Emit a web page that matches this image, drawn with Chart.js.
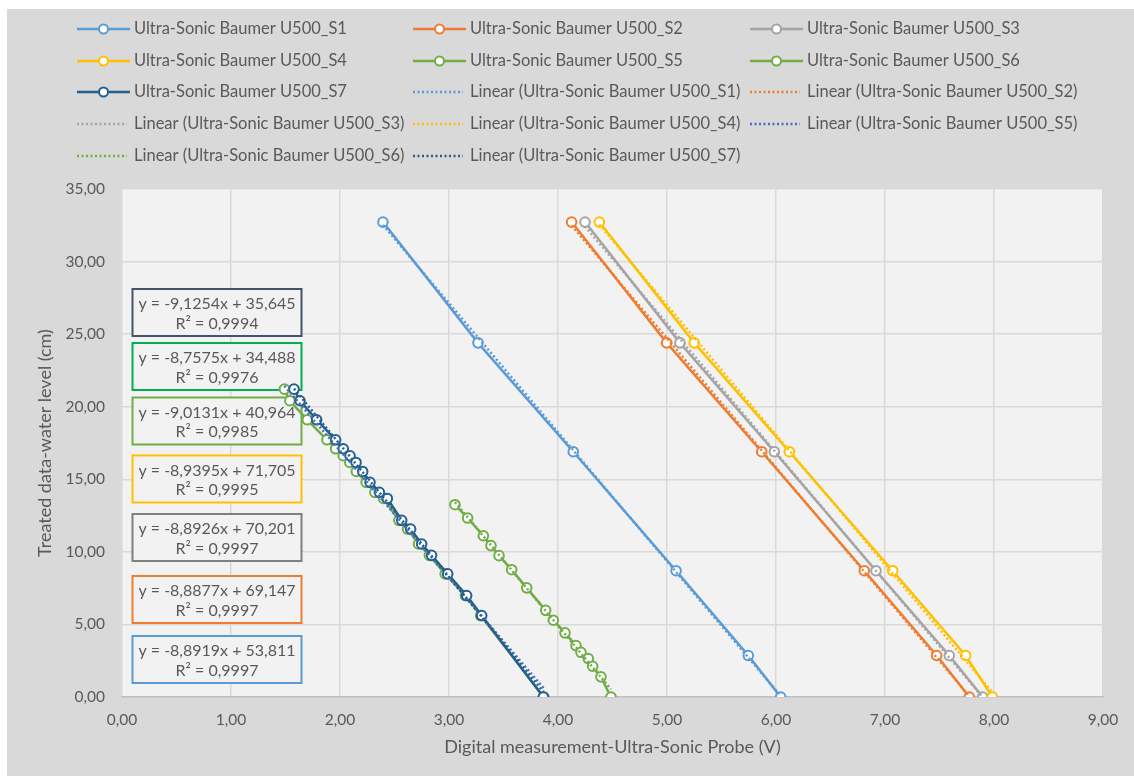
<!DOCTYPE html>
<html>
<head>
<meta charset="utf-8">
<script src="https://cdn.jsdelivr.net/npm/chart.js@4.4.0/dist/chart.umd.min.js"></script>
<style>
  html, body { margin: 0; padding: 0; background: #ffffff; }
  #wrap { position: relative; width: 1134px; height: 776px; }
  canvas { display: block; }
</style>
</head>
<body>
<div id="wrap"><canvas id="chart" width="1134" height="776"></canvas></div>
<script>
// ---- data -----------------------------------------------------------------
const seriesNames = [
  'Ultra-Sonic Baumer U500_S1', 'Ultra-Sonic Baumer U500_S2', 'Ultra-Sonic Baumer U500_S3',
  'Ultra-Sonic Baumer U500_S4', 'Ultra-Sonic Baumer U500_S5', 'Ultra-Sonic Baumer U500_S6',
  'Ultra-Sonic Baumer U500_S7'
];

// water levels (cm) for probes S1-S4
const levelsLong = [32.72, 24.40, 16.90, 8.70, 2.86, 0.00];
const voltsS1 = [2.394, 3.266, 4.140, 5.083, 5.746, 6.043];
const voltsS2 = [4.125, 4.997, 5.869, 6.810, 7.474, 7.774];
const voltsS3 = [4.248, 5.119, 5.985, 6.917, 7.590, 7.896];
const voltsS4 = [4.379, 5.250, 6.122, 7.070, 7.740, 7.985];

// water levels (cm) for probes S5 and S7
const levelsS57 = [21.21, 20.41, 19.10, 17.72, 17.10, 16.62, 16.16, 15.54, 14.79, 14.10,
                   13.68, 12.17, 11.57, 10.54, 9.76, 8.48, 6.99, 5.61, 0.00];
const voltsS5 = [1.490, 1.540, 1.700, 1.880, 1.960, 2.030, 2.090, 2.150, 2.240, 2.320,
                 2.400, 2.540, 2.620, 2.720, 2.820, 2.965, 3.150, 3.290, 3.870];
const voltsS7 = [1.578, 1.633, 1.786, 1.960, 2.030, 2.092, 2.147, 2.208, 2.275, 2.361,
                 2.434, 2.566, 2.648, 2.749, 2.840, 2.988, 3.162, 3.300, 3.866];

// water levels (cm) for probe S6
const levelsS6 = [13.25, 12.33, 11.11, 10.43, 9.74, 8.77, 7.52, 5.97, 5.29, 4.42,
                  3.54, 3.08, 2.65, 2.12, 1.39, 0.00];
const voltsS6 = [3.055, 3.171, 3.315, 3.385, 3.459, 3.575, 3.713, 3.887, 3.957, 4.064,
                 4.165, 4.211, 4.278, 4.318, 4.394, 4.486];

// linear trend coefficients (y = slope * x + intercept) and R²
const trendSlopes     = [-8.8919, -8.8877, -8.8926, -8.9395, -8.7575, -9.0131, -9.1254];
const trendIntercepts = [53.811, 69.147, 70.201, 71.705, 34.488, 40.964, 35.645];
const trendR2         = [0.9997, 0.9997, 0.9997, 0.9995, 0.9976, 0.9985, 0.9994];

// axis ticks
const xTicks = [0, 1, 2, 3, 4, 5, 6, 7, 8, 9];
const yTicks = [0, 5, 10, 15, 20, 25, 30, 35];

// ---- styles ---------------------------------------------------------------
const lineColors  = ['#5B9BD5', '#ED7D31', '#A5A5A5', '#FFC000', '#70AD47', '#70AD47', '#255E91'];
const trendColors = ['#5B9BD5', '#ED7D31', '#A5A5A5', '#FFC000', '#4472C4', '#70AD47', '#255E91'];
// equation labels, top to bottom: series index and frame colour
const eqOrder  = [6, 4, 5, 3, 2, 1, 0];
const eqFrames = ['#44546A', '#00B050', '#70AD47', '#FFC000', '#7F7F7F', '#ED7D31', '#5B9BD5'];

const FONT = 'Lato, "Open Sans", "Liberation Sans", sans-serif';
const TEXT = '#595959';

const seriesX = [voltsS1, voltsS2, voltsS3, voltsS4, voltsS5, voltsS6, voltsS7];
const seriesY = [levelsLong, levelsLong, levelsLong, levelsLong, levelsS57, levelsS6, levelsS57];

const fmt2 = v => v.toFixed(2).replace('.', ',');
const fmtN = (v, d) => v.toFixed(d).replace('.', ',');

// ---- datasets -------------------------------------------------------------
const datasets = [];
seriesNames.forEach((name, i) => {
  datasets.push({
    label: name,
    data: seriesX[i].map((x, k) => ({ x: x, y: seriesY[i][k] })),
    showLine: true,
    borderColor: lineColors[i],
    backgroundColor: '#FFFFFF',
    borderWidth: 2.5,
    pointRadius: 4.8,
    pointBorderWidth: 2,
    pointBorderColor: lineColors[i],
    pointBackgroundColor: '#FFFFFF',
    order: 20 - i
  });
});
seriesNames.forEach((name, i) => {
  const xs = seriesX[i];
  const x0 = Math.min(...xs), x1 = Math.max(...xs);
  datasets.push({
    label: 'Linear (' + name + ')',
    data: [
      { x: x0, y: trendSlopes[i] * x0 + trendIntercepts[i] },
      { x: x1, y: trendSlopes[i] * x1 + trendIntercepts[i] }
    ],
    showLine: true,
    borderColor: trendColors[i],
    borderWidth: 2.5,
    borderDash: [2, 2.5],
    pointRadius: 0,
    order: 10 - i
  });
});

// ---- plugins --------------------------------------------------------------
const backdrop = {
  id: 'backdrop',
  beforeDraw(chart) {
    const { ctx, chartArea: a } = chart;
    ctx.save();
    ctx.fillStyle = '#FFFFFF';
    ctx.fillRect(0, 0, chart.width, chart.height);
    ctx.fillStyle = '#D9D9D9';
    ctx.fillRect(7, 9, chart.width - 7, chart.height - 9);
    ctx.fillStyle = '#F2F2F2';
    ctx.fillRect(a.left, a.top, a.right - a.left, a.bottom - a.top);
    ctx.restore();
  }
};

const equations = {
  id: 'equations',
  beforeDatasetsDraw(chart) {
    const { ctx, chartArea: a } = chart;
    const tops = [100, 154, 208.5, 266.5, 325, 387, 447];
    ctx.save();
    eqOrder.forEach((s, j) => {
      const left = a.left + 10.5, top = a.top + tops[j], w = 169, h = 47;
      ctx.fillStyle = '#F2F2F2';
      ctx.fillRect(left, top, w, h);
      ctx.strokeStyle = eqFrames[j];
      ctx.lineWidth = 2;
      ctx.strokeRect(left, top, w, h);
      ctx.fillStyle = TEXT;
      ctx.font = '16px ' + FONT;
      ctx.textAlign = 'center';
      ctx.textBaseline = 'middle';
      const sign = trendIntercepts[s] >= 0 ? ' + ' : ' - ';
      const line1 = 'y = ' + fmtN(trendSlopes[s], 4) + 'x' + sign + fmtN(Math.abs(trendIntercepts[s]), 3);
      const line2 = 'R\u00B2 = ' + fmtN(trendR2[s], 4);
      ctx.fillText(line1, left + w / 2, top + 15);
      ctx.fillText(line2, left + w / 2, top + 34.5);
    });
    ctx.restore();
  }
};

const legendBox = {
  id: 'legendBox',
  afterDraw(chart) {
    const { ctx } = chart;
    const colX = [77, 413, 750];
    const rowY = [29, 61, 92, 124, 156];
    ctx.save();
    ctx.font = '16.5px ' + FONT;
    ctx.textBaseline = 'middle';
    ctx.textAlign = 'left';
    chart.data.datasets.forEach((ds, k) => {
      const col = k % 3, row = Math.floor(k / 3);
      const x = colX[col], y = rowY[row];
      const isTrend = k >= 7;
      ctx.strokeStyle = ds.borderColor;
      ctx.lineWidth = 2.5;
      ctx.setLineDash(isTrend ? [2, 2.5] : []);
      ctx.beginPath();
      ctx.moveTo(x, y);
      ctx.lineTo(x + (isTrend ? 50 : 53), y);
      ctx.stroke();
      ctx.setLineDash([]);
      if (!isTrend) {
        ctx.beginPath();
        ctx.arc(x + 26.5, y, 4.5, 0, Math.PI * 2);
        ctx.fillStyle = '#FFFFFF';
        ctx.fill();
        ctx.lineWidth = 2;
        ctx.stroke();
      }
      ctx.fillStyle = TEXT;
      ctx.fillText(ds.label, x + 57, y);
    });
    ctx.restore();
  }
};

// ---- chart ----------------------------------------------------------------
new Chart(document.getElementById('chart'), {
  type: 'scatter',
  data: { datasets: datasets },
  plugins: [backdrop, equations, legendBox],
  options: {
    responsive: false,
    animation: false,
    devicePixelRatio: 1,
    layout: { padding: { top: 189, right: 31, bottom: 0, left: 0 } },
    plugins: { legend: { display: false }, tooltip: { enabled: false } },
    scales: {
      x: {
        type: 'linear',
        min: xTicks[0], max: xTicks[xTicks.length - 1],
        afterBuildTicks(scale) { scale.ticks = xTicks.map(v => ({ value: v })); },
        afterFit(scale) { scale.height = 79; },
        grid: { color: '#D9D9D9', lineWidth: 1.5, drawTicks: false },
        border: { color: '#BFBFBF', width: 1.5 },
        ticks: { color: TEXT, font: { family: FONT, size: 15.5 }, padding: 14, callback: v => fmt2(v), maxRotation: 0 },
        title: { display: true, text: 'Digital measurement-Ultra-Sonic Probe (V)', color: TEXT,
                 font: { family: FONT, size: 18 }, padding: { top: 18, bottom: 18 } }
      },
      y: {
        type: 'linear',
        min: yTicks[0], max: yTicks[yTicks.length - 1],
        afterBuildTicks(scale) { scale.ticks = yTicks.map(v => ({ value: v })); },
        afterFit(scale) { scale.width = 122; },
        grid: { color: '#D9D9D9', lineWidth: 1.5, drawTicks: false },
        border: { display: false },
        ticks: { color: TEXT, font: { family: FONT, size: 15.5 }, padding: 17, callback: v => fmt2(v) },
        title: { display: true, text: 'Treated data-water level (cm)', color: TEXT,
                 font: { family: FONT, size: 18 }, padding: { top: 34, bottom: 34 } }
      }
    }
  }
});
</script>
</body>
</html>
